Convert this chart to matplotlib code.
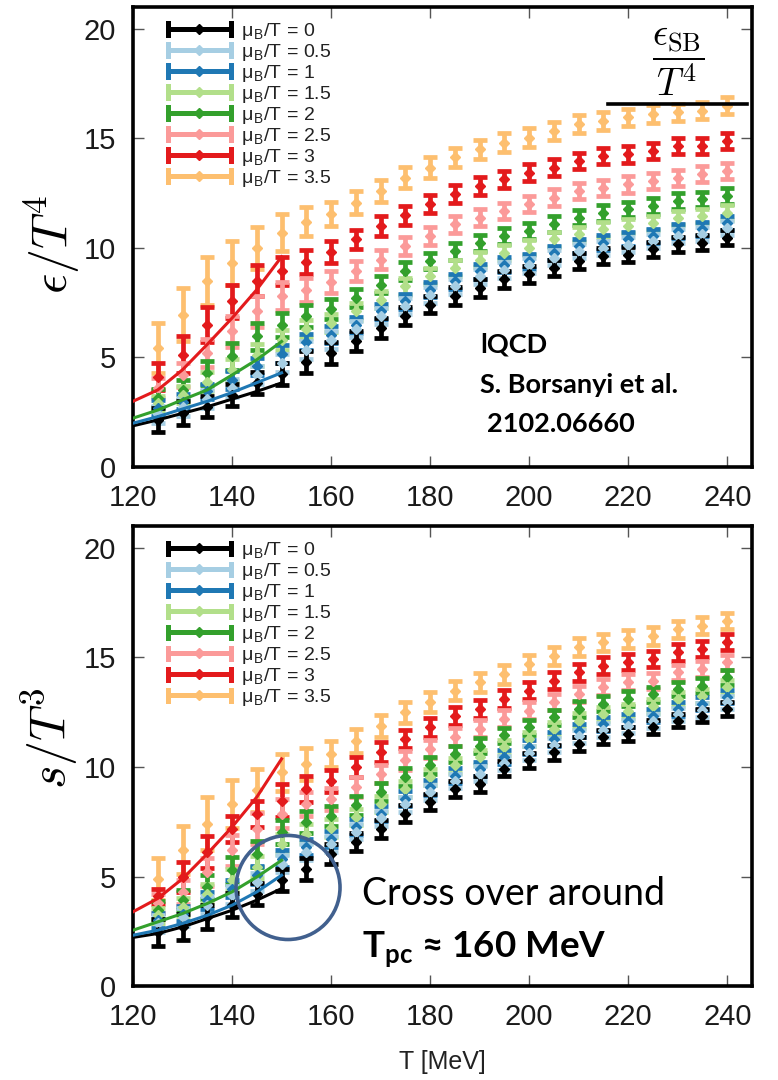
import numpy as np
import matplotlib.pyplot as plt
from matplotlib.lines import Line2D
from matplotlib.legend_handler import HandlerBase
from matplotlib.patches import Ellipse

plt.rcParams['font.family'] = ['Liberation Sans', 'DejaVu Sans']
plt.rcParams['mathtext.fontset'] = 'cm'
plt.rcParams['mathtext.bf'] = 'Lato:bold'
plt.rcParams['mathtext.rm'] = 'Lato'

# ---------------------------------------------------------------- data
T = [125, 130, 135, 140, 145, 150, 155, 160, 165, 170, 175, 180,
     185, 190, 195, 200, 205, 210, 215, 220, 225, 230, 235, 240]
T_line = [120, 125, 130, 135, 140, 145, 150]

labels = ['0', '0.5', '1', '1.5', '2', '2.5', '3', '3.5']
colors = ['#000000', '#a6cee3', '#1f78b4', '#b2df8a',
          '#33a02c', '#fb9a99', '#e31a1c', '#fdbf6f']

# energy density eps/T^4
eps_0 = [2.15, 2.46, 2.76, 3.3, 3.83, 4.25, 4.8, 5.2, 5.74, 6.35, 6.88, 7.41,
         7.8, 8.18, 8.56, 8.79, 9.09, 9.4, 9.63, 9.7, 9.93, 10.16, 10.24, 10.47]
eps_05 = [2.4, 2.75, 3.1, 3.6, 4.2, 4.75, 5.35, 5.8, 6.3, 6.9, 7.35, 7.85,
          8.25, 8.7, 9.0, 9.2, 9.55, 9.85, 10.0, 10.15, 10.3, 10.55, 10.65, 10.9]
eps_1 = [2.69, 2.99, 3.45, 3.98, 4.59, 5.15, 5.7, 6.04, 6.5, 7.1, 7.57, 8.1,
         8.48, 8.94, 9.24, 9.4, 9.78, 10.08, 10.24, 10.39, 10.54, 10.77, 10.85, 11.15]
eps_15 = [2.91, 3.3, 3.9, 4.44, 5.13, 5.8, 6.3, 6.58, 7.1, 7.64, 8.25, 8.71,
          9.09, 9.47, 9.78, 10.01, 10.39, 10.62, 10.85, 11.0, 11.15, 11.38, 11.46, 11.61]
eps_2 = [3.14, 3.52, 4.29, 5.05, 5.96, 6.5, 6.9, 7.2, 7.72, 8.33, 8.94, 9.4,
         9.85, 10.24, 10.54, 10.77, 11.08, 11.38, 11.6, 11.76, 11.91, 12.14, 12.22, 12.37]
eps_25 = [3.6, 4.21, 5.2, 6.19, 7.11, 7.8, 8.1, 8.45, 8.94, 9.47, 10.08, 10.54,
          11.08, 11.38, 11.69, 12.0, 12.3, 12.6, 12.75, 12.9, 13.06, 13.21, 13.36, 13.52]
eps_3 = [4.13, 5.13, 6.5, 7.57, 8.5, 8.95, 9.35, 9.8, 10.39, 11.0, 11.49, 12.0,
         12.45, 12.83, 13.13, 13.44, 13.67, 13.97, 14.2, 14.28, 14.43, 14.66, 14.66, 14.89]
eps_35 = [5.43, 6.96, 8.48, 9.32, 10.01, 10.69, 11.2, 11.55, 12.07, 12.6, 13.21, 13.67,
          14.13, 14.5, 14.81, 15.04, 15.35, 15.65, 15.8, 15.96, 16.11, 16.19, 16.26, 16.49]

eps_err_0 = [0.55, 0.55, 0.5, 0.5, 0.5, 0.5, 0.5, 0.5, 0.45, 0.45, 0.42, 0.4,
             0.4, 0.4, 0.38, 0.38, 0.37, 0.36, 0.36, 0.35, 0.35, 0.34, 0.34, 0.33]
eps_err_05 = [0.4, 0.4, 0.4, 0.4, 0.4, 0.4, 0.4, 0.4, 0.38, 0.38, 0.36, 0.36,
              0.35, 0.35, 0.35, 0.34, 0.34, 0.33, 0.33, 0.33, 0.32, 0.32, 0.32, 0.32]
eps_err_1 = [0.35, 0.35, 0.35, 0.4, 0.4, 0.4, 0.38, 0.38, 0.36, 0.36, 0.35, 0.35,
             0.35, 0.34, 0.34, 0.34, 0.33, 0.33, 0.33, 0.32, 0.32, 0.32, 0.32, 0.32]
eps_err_15 = [0.35, 0.4, 0.45, 0.5, 0.5, 0.45, 0.42, 0.4, 0.4, 0.38, 0.38, 0.36,
              0.36, 0.35, 0.35, 0.35, 0.34, 0.34, 0.34, 0.33, 0.33, 0.33, 0.33, 0.33]
eps_err_2 = [0.4, 0.45, 0.55, 0.6, 0.6, 0.55, 0.5, 0.45, 0.42, 0.4, 0.4, 0.38,
             0.38, 0.37, 0.36, 0.36, 0.36, 0.35, 0.35, 0.35, 0.35, 0.35, 0.35, 0.35]
eps_err_25 = [0.45, 0.55, 0.65, 0.7, 0.7, 0.65, 0.55, 0.5, 0.45, 0.42, 0.42, 0.4,
              0.4, 0.4, 0.38, 0.38, 0.38, 0.37, 0.37, 0.37, 0.36, 0.36, 0.36, 0.36]
eps_err_3 = [0.6, 0.85, 0.8, 0.75, 0.7, 0.65, 0.55, 0.5, 0.45, 0.45, 0.43, 0.42,
             0.42, 0.4, 0.4, 0.4, 0.4, 0.38, 0.38, 0.38, 0.38, 0.37, 0.37, 0.37]
eps_err_35 = [1.15, 1.2, 1.1, 1.0, 0.95, 0.85, 0.65, 0.55, 0.52, 0.5, 0.48, 0.46,
              0.45, 0.44, 0.43, 0.42, 0.42, 0.41, 0.4, 0.4, 0.4, 0.39, 0.39, 0.38]

eps_line_0 = [1.88, 2.15, 2.45, 2.75, 3.1, 3.45, 3.84]
eps_line_1 = [2.0, 2.3, 2.65, 3.0, 3.4, 3.85, 4.3]
eps_line_2 = [2.23, 2.6, 3.07, 3.52, 4.2, 4.9, 5.73]
eps_line_3 = [3.0, 3.52, 4.44, 5.6, 6.8, 8.1, 9.6]

# entropy density s/T^3
s_0 = [2.45, 2.7, 3.16, 3.69, 4.22, 4.83, 5.36, 6.04, 6.58, 7.18, 7.87, 8.4,
       9.0, 9.23, 9.92, 10.3, 10.68, 11.06, 11.36, 11.51, 11.81, 12.12, 12.35, 12.65]
s_05 = [2.86, 3.16, 3.69, 4.15, 4.75, 5.59, 6.12, 6.5, 7.05, 7.65, 8.3, 8.85,
        9.35, 9.7, 10.2, 10.65, 11.0, 11.4, 11.7, 11.85, 12.1, 12.4, 12.6, 12.95]
s_1 = [3.0, 3.31, 3.92, 4.45, 5.06, 5.82, 6.35, 6.73, 7.26, 7.87, 8.55, 9.08,
       9.61, 9.92, 10.45, 10.9, 11.28, 11.66, 11.97, 12.12, 12.35, 12.65, 12.88, 13.21]
s_15 = [3.23, 3.61, 4.22, 4.83, 5.44, 6.5, 6.96, 7.22, 7.71, 8.32, 9.0, 9.54,
        10.07, 10.45, 10.9, 11.28, 11.74, 12.12, 12.42, 12.57, 12.8, 13.11, 13.26, 13.64]
s_2 = [3.46, 3.92, 4.53, 5.28, 6.04, 7.03, 7.49, 7.75, 8.25, 8.85, 9.54, 10.07,
       10.6, 10.98, 11.44, 11.81, 12.27, 12.65, 12.88, 13.11, 13.33, 13.56, 13.71, 14.09]
s_25 = [3.77, 4.3, 5.21, 6.2, 7.18, 7.87, 8.32, 8.55, 9.08, 9.69, 10.3, 10.83,
        11.36, 11.74, 12.2, 12.57, 12.95, 13.33, 13.64, 13.87, 13.94, 14.32, 14.47, 14.78]
s_3 = [4.1, 4.98, 6.12, 7.18, 7.87, 8.47, 9.0, 9.38, 9.99, 10.68, 11.28, 11.81,
       12.35, 12.65, 13.11, 13.49, 13.94, 14.32, 14.62, 14.78, 14.93, 15.23, 15.38, 15.69]
s_35 = [4.9, 6.2, 7.41, 8.32, 8.93, 9.76, 10.14, 10.6, 11.2, 11.89, 12.5, 12.95,
        13.49, 13.87, 14.24, 14.7, 15.08, 15.46, 15.69, 15.84, 15.99, 16.29, 16.45, 16.67]

s_err_0 = [0.6, 0.6, 0.55, 0.55, 0.5, 0.5, 0.5, 0.45, 0.42, 0.4, 0.4, 0.38,
           0.38, 0.36, 0.35, 0.35, 0.34, 0.33, 0.33, 0.32, 0.32, 0.31, 0.31, 0.3]
s_err_05 = [0.4, 0.4, 0.4, 0.4, 0.4, 0.4, 0.38, 0.36, 0.35, 0.35, 0.34, 0.34,
            0.33, 0.33, 0.32, 0.32, 0.32, 0.31, 0.31, 0.3, 0.3, 0.3, 0.3, 0.3]
s_err_1 = [0.35, 0.35, 0.38, 0.4, 0.4, 0.4, 0.38, 0.36, 0.35, 0.35, 0.34, 0.34,
           0.33, 0.33, 0.32, 0.32, 0.32, 0.31, 0.31, 0.3, 0.3, 0.3, 0.3, 0.3]
s_err_15 = [0.35, 0.4, 0.45, 0.5, 0.5, 0.45, 0.42, 0.4, 0.38, 0.37, 0.36, 0.35,
            0.35, 0.34, 0.34, 0.33, 0.33, 0.33, 0.32, 0.32, 0.32, 0.32, 0.32, 0.32]
s_err_2 = [0.4, 0.45, 0.55, 0.6, 0.6, 0.55, 0.5, 0.45, 0.42, 0.4, 0.4, 0.38,
           0.37, 0.36, 0.36, 0.35, 0.35, 0.35, 0.34, 0.34, 0.34, 0.34, 0.34, 0.34]
s_err_25 = [0.45, 0.55, 0.65, 0.7, 0.7, 0.65, 0.55, 0.5, 0.45, 0.42, 0.42, 0.4,
            0.4, 0.39, 0.38, 0.38, 0.37, 0.37, 0.36, 0.36, 0.36, 0.35, 0.35, 0.35]
s_err_3 = [0.35, 0.7, 0.75, 0.6, 0.6, 0.75, 0.6, 0.5, 0.46, 0.44, 0.43, 0.42,
           0.41, 0.4, 0.4, 0.39, 0.39, 0.38, 0.38, 0.37, 0.37, 0.37, 0.36, 0.36]
s_err_35 = [0.95, 1.1, 1.2, 1.1, 1.0, 0.85, 0.75, 0.6, 0.55, 0.5, 0.48, 0.46,
            0.45, 0.44, 0.43, 0.42, 0.42, 0.41, 0.4, 0.4, 0.4, 0.39, 0.39, 0.38]

s_line_0 = [2.22, 2.4, 2.7, 3.08, 3.46, 3.92, 4.45]
s_line_1 = [2.32, 2.55, 2.86, 3.23, 3.69, 4.3, 5.06]
s_line_2 = [2.55, 2.93, 3.31, 3.77, 4.3, 4.98, 5.74]
s_line_3 = [3.39, 4.0, 4.9, 6.04, 7.26, 8.63, 10.37]

line_colors = ['#000000', '#1f78b4', '#33a02c', '#e31a1c']

# Stefan-Boltzmann limit marker (top panel) and crossover circle (bottom)
sb_T = [216, 244]
sb_val = 16.57
circ_T, circ_s = 151.3, 4.5
circ_w, circ_h = 21.0, 4.75

eps_vals = [eps_0, eps_05, eps_1, eps_15, eps_2, eps_25, eps_3, eps_35]
eps_errs = [eps_err_0, eps_err_05, eps_err_1, eps_err_15,
            eps_err_2, eps_err_25, eps_err_3, eps_err_35]
eps_lines = [eps_line_0, eps_line_1, eps_line_2, eps_line_3]
s_vals = [s_0, s_05, s_1, s_15, s_2, s_25, s_3, s_35]
s_errs = [s_err_0, s_err_05, s_err_1, s_err_15,
          s_err_2, s_err_25, s_err_3, s_err_35]
s_lines = [s_line_0, s_line_1, s_line_2, s_line_3]


# legend handle: horizontal bar with end caps and a diamond
class ErrHandler(HandlerBase):
    def create_artists(self, legend, orig_handle, xdescent, ydescent,
                       width, height, fontsize, trans):
        c = orig_handle.get_color()
        y = 0.5 * height - ydescent
        x0, x1 = -xdescent, width - xdescent
        h = 4.0
        bar = Line2D([x0, x1], [y, y], color=c, lw=3.6)
        caps = Line2D([x0, x0, np.nan, x1, x1], [y - h, y + h, np.nan, y - h, y + h],
                      color=c, lw=3.6)
        dot = Line2D([0.5 * (x0 + x1)], [y], marker='D', ms=5, color=c, lw=0)
        for a in (bar, caps, dot):
            a.set_transform(trans)
        return [bar, caps, dot]


def draw_panel(ax, vals, errs, lines):
    # larger mu first so mu=0 sits on top
    for i in range(len(vals) - 1, -1, -1):
        ax.errorbar(T, vals[i], yerr=errs[i], fmt='D', color=colors[i], ms=5.5,
                    elinewidth=3.4, capsize=4.8, capthick=3.4, zorder=2)
    for yl, c in zip(lines, line_colors):
        ax.plot(T_line, yl, color=c, lw=2.2, zorder=3)
    ax.set_xlim(120, 245)
    ax.set_ylim(0, 21)
    ax.set_xticks([120, 140, 160, 180, 200, 220, 240])
    ax.set_yticks([0, 5, 10, 15, 20])
    ax.tick_params(direction='in', top=True, right=True, length=8, width=1,
                   color='#555555', labelsize=21, pad=12, labelcolor='#1a1a1a')
    for s in ax.spines.values():
        s.set_linewidth(2.6)
    handles = [Line2D([], [], color=c) for c in colors]
    texts = [r'μ$_\mathregular{B}$/T = ' + l for l in labels]
    ax.legend(handles, texts, handler_map={Line2D: ErrHandler()},
              loc='upper left', bbox_to_anchor=(0.057, 0.97), frameon=False,
              borderpad=0, borderaxespad=0, fontsize=14, handlelength=3.2,
              handletextpad=0.55, labelspacing=0.0, labelcolor='#222222')


fig = plt.figure(figsize=(7.78, 10.8), dpi=100)
ax1 = fig.add_axes([0.171, 0.5676, 0.7956, 0.4259])
ax2 = fig.add_axes([0.171, 0.0870, 0.7956, 0.4259])

draw_panel(ax1, eps_vals, eps_errs, eps_lines)
draw_panel(ax2, s_vals, s_errs, s_lines)

# top panel extras
ax1.plot(sb_T, [sb_val, sb_val], color='k', lw=2.6, zorder=4)
ax1.text(230.1, 18.5, r'$\dfrac{\epsilon_{\rm SB}}{T^4}$', ha='center', va='center',
         fontsize=27, math_fontfamily='cm')
bold_font = dict(family=['Lato', 'DejaVu Sans'], weight='bold', fontsize=19.5)
ax1.text(190.1, 5.22, 'lQCD', ha='left', va='baseline', **bold_font)
ax1.text(190.1, 3.39, 'S. Borsanyi et al.', ha='left', va='baseline', **bold_font)
ax1.text(191.5, 1.6, '2102.06660', ha='left', va='baseline', **bold_font)

# bottom panel extras
ax2.add_patch(Ellipse((circ_T, circ_s), circ_w, circ_h, fill=False,
                      ec='#41608e', lw=2.6, zorder=5))
ax2.text(166.2, 3.69, 'Cross over around', ha='left', va='baseline',
         family=['Lato', 'DejaVu Sans'], fontsize=27)
ax2.text(166.2, 1.28, r'$\mathbf{T}_{\mathbf{pc}}$ ≈ 160 MeV', ha='left', va='baseline',
         family=['Lato', 'DejaVu Sans'], weight='bold', fontsize=26.5,
         math_fontfamily='custom')
ax2.set_xlabel('T [MeV]', fontsize=18, labelpad=14, color='#222222')

fig.text(52 / 778, 1 - 245 / 1080, r'$\epsilon/T^4$', rotation=90, ha='center',
         va='center', fontsize=36, math_fontfamily='cm')
fig.text(50 / 778, 1 - 738 / 1080, r'$s/T^3$', rotation=90, ha='center',
         va='center', fontsize=36, math_fontfamily='cm')

fig.savefig('out.png', dpi=100)
